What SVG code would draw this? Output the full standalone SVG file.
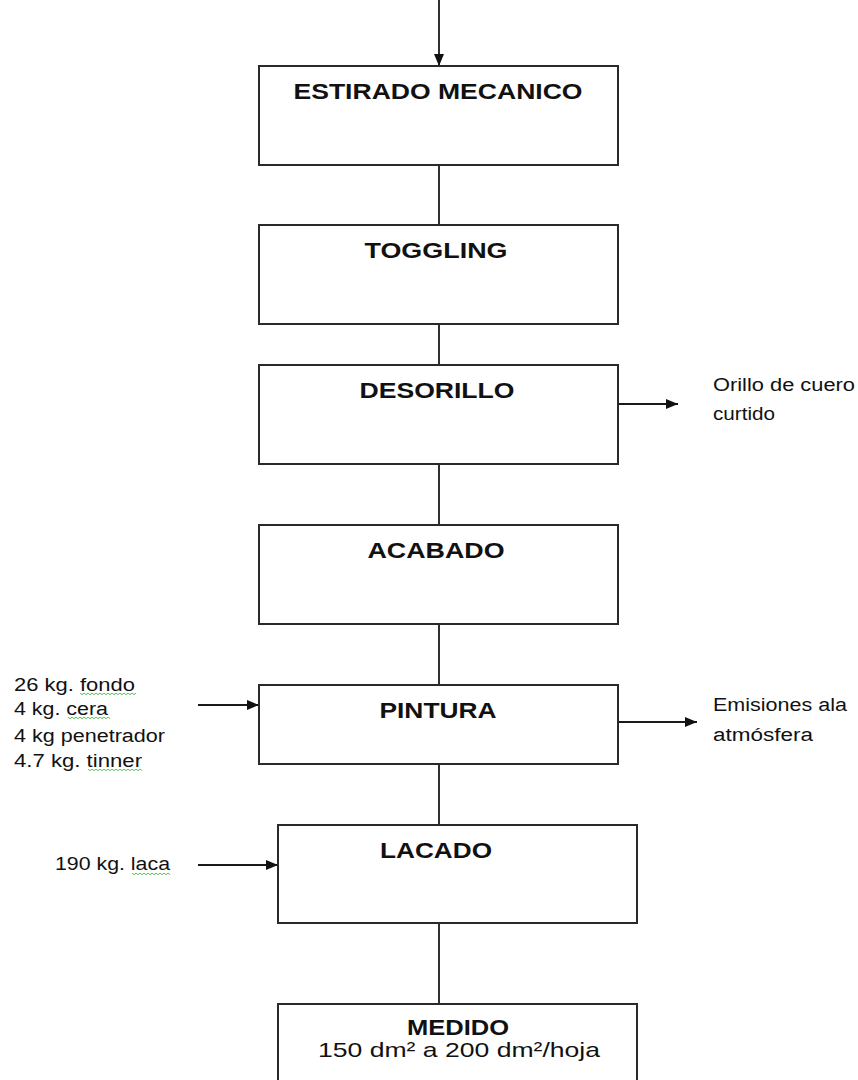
<svg xmlns="http://www.w3.org/2000/svg" width="858" height="1080" viewBox="0 0 858 1080">
  <style>
    .box { fill: #ffffff; stroke: #2a2a2a; stroke-width: 2; }
    .line { stroke: #1a1a1a; stroke-width: 1.8; fill: none; }
    .title { font-family: "Liberation Sans", Arial, sans-serif; font-weight: bold; font-size: 22px; fill: #111111; text-anchor: middle; }
    .sub { font-family: "Liberation Sans", Arial, sans-serif; font-size: 21px; fill: #111111; text-anchor: middle; }
    .note { font-family: "Liberation Sans", Arial, sans-serif; font-size: 18px; fill: #111111; }
  </style>
  <defs>
    <marker id="arrow" markerUnits="userSpaceOnUse" markerWidth="13" markerHeight="11" refX="12" refY="5" orient="auto">
      <path d="M0,0 L12,5 L0,10 z" fill="#111111"/>
    </marker>
    <!-- wavy spell-check underline -->
    <pattern id="squiggle" patternUnits="userSpaceOnUse" width="4" height="4">
      <polyline points="0,0.8 2,2.8 4,0.8" fill="none" stroke="#3cb83c" stroke-width="1"/>
    </pattern>
  </defs>

  <rect width="858" height="1080" fill="#ffffff"/>

  <!-- connectors -->
  <g id="connectors">
    <line class="line" x1="439" y1="0" x2="439" y2="66" marker-end="url(#arrow)"/>
    <line class="line" x1="439" y1="165" x2="439" y2="225"/>
    <line class="line" x1="439" y1="324" x2="439" y2="365"/>
    <line class="line" x1="439" y1="464" x2="439" y2="525"/>
    <line class="line" x1="439" y1="624" x2="439" y2="685"/>
    <line class="line" x1="439" y1="764" x2="439" y2="825"/>
    <line class="line" x1="439" y1="923" x2="439" y2="1004"/>
    <line class="line" x1="618" y1="404" x2="678" y2="404" marker-end="url(#arrow)"/>
    <line class="line" x1="198" y1="705" x2="259" y2="705" marker-end="url(#arrow)"/>
    <line class="line" x1="618" y1="722" x2="697" y2="722" marker-end="url(#arrow)"/>
    <line class="line" x1="198" y1="865" x2="278" y2="865" marker-end="url(#arrow)"/>
  </g>

  <g id="estirado">
    <rect class="box" x="259" y="66" width="359" height="99"/>
    <text class="title" x="438" y="99" textLength="289" lengthAdjust="spacingAndGlyphs">ESTIRADO MECANICO</text>
  </g>

  <g id="toggling">
    <rect class="box" x="259" y="225" width="359" height="99"/>
    <text class="title" x="436" y="258" textLength="143" lengthAdjust="spacingAndGlyphs">TOGGLING</text>
  </g>

  <g id="desorillo">
    <rect class="box" x="259" y="365" width="359" height="99"/>
    <text class="title" x="437" y="398" textLength="155" lengthAdjust="spacingAndGlyphs">DESORILLO</text>
  </g>

  <g id="acabado">
    <rect class="box" x="259" y="525" width="359" height="99"/>
    <text class="title" x="436" y="558" textLength="137" lengthAdjust="spacingAndGlyphs">ACABADO</text>
  </g>

  <g id="pintura">
    <rect class="box" x="259" y="685" width="359" height="79"/>
    <text class="title" x="438" y="718" textLength="117" lengthAdjust="spacingAndGlyphs">PINTURA</text>
  </g>

  <g id="lacado">
    <rect class="box" x="278" y="825" width="359" height="98"/>
    <text class="title" x="436" y="858" textLength="112" lengthAdjust="spacingAndGlyphs">LACADO</text>
  </g>

  <g id="medido">
    <rect class="box" x="278" y="1004" width="359" height="90"/>
    <text class="title" x="458" y="1035" textLength="102" lengthAdjust="spacingAndGlyphs">MEDIDO</text>
    <text class="sub" x="459" y="1057" textLength="282" lengthAdjust="spacingAndGlyphs">150 dm² a 200 dm²/hoja</text>
  </g>

  <!-- residue leaving the trimming step -->
  <g id="orillo">
    <text class="note" x="713" y="391" textLength="142" lengthAdjust="spacingAndGlyphs">Orillo de cuero</text>
    <text class="note" x="713" y="420" textLength="62" lengthAdjust="spacingAndGlyphs">curtido</text>
  </g>

  <!-- inputs to the painting step -->
  <g id="insumos-pintura">
    <text class="note" x="14" y="691" textLength="121" lengthAdjust="spacingAndGlyphs">26 kg. fondo</text>
    <text class="note" x="14" y="715" textLength="94" lengthAdjust="spacingAndGlyphs">4 kg. cera</text>
    <text class="note" x="14" y="742" textLength="151" lengthAdjust="spacingAndGlyphs">4 kg penetrador</text>
    <text class="note" x="14" y="767" textLength="128" lengthAdjust="spacingAndGlyphs">4.7 kg. tinner</text>
    <rect x="80" y="693" width="56" height="4" fill="url(#squiggle)"/>
    <rect x="68" y="717" width="42" height="4" fill="url(#squiggle)"/>
    <rect x="88" y="769" width="54" height="4" fill="url(#squiggle)"/>
  </g>

  <!-- emissions from the painting step -->
  <g id="emisiones">
    <text class="note" x="713" y="711" textLength="134" lengthAdjust="spacingAndGlyphs">Emisiones ala</text>
    <text class="note" x="713" y="741" textLength="100" lengthAdjust="spacingAndGlyphs">atmósfera</text>
  </g>

  <!-- input to the lacquer step -->
  <g id="insumo-laca">
    <text class="note" x="55" y="870" textLength="115" lengthAdjust="spacingAndGlyphs">190 kg. laca</text>
    <rect x="132" y="872" width="38" height="4" fill="url(#squiggle)"/>
  </g>
</svg>
